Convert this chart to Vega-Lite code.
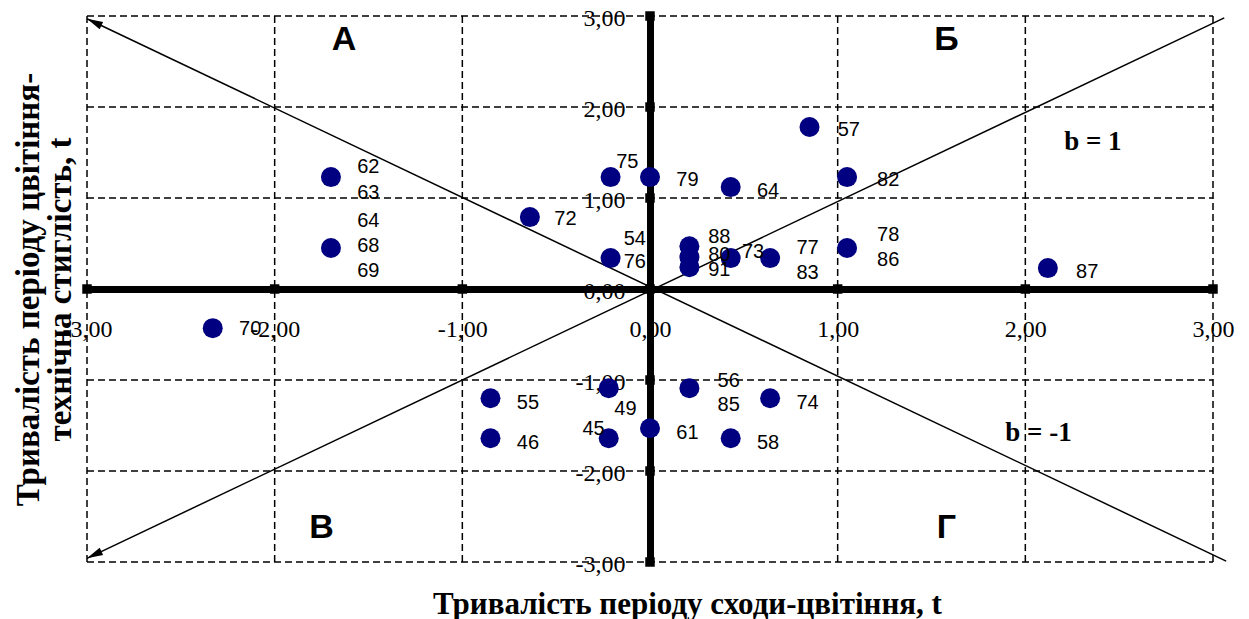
{
  "$schema": "https://vega.github.io/schema/vega-lite/v6.json",
  "width": 1126,
  "height": 546,
  "autosize": {"type": "none"},
  "padding": {"left": 87, "top": 16, "right": 36, "bottom": 57},
  "background": "white",
  "config": {"view": {"stroke": null}, "axis": {"grid": false, "ticks": false, "tickSize": 0}},
  "datasets": {
    "grid": [{"v": -3}, {"v": -2}, {"v": -1}, {"v": 1}, {"v": 2}, {"v": 3}],
    "diag": [
      {"b": "1", "x": -3, "y": -2.96}, {"b": "1", "x": 3.06, "y": 2.98},
      {"b": "-1", "x": -3, "y": 2.97}, {"b": "-1", "x": 3.07, "y": -2.99}
    ],
    "ticks": [
      {"x": -3, "y": 0}, {"x": -2, "y": 0}, {"x": -1, "y": 0}, {"x": 1, "y": 0}, {"x": 2, "y": 0}, {"x": 3, "y": 0},
      {"x": 0, "y": -3}, {"x": 0, "y": -2}, {"x": 0, "y": -1}, {"x": 0, "y": 1}, {"x": 0, "y": 2}, {"x": 0, "y": 3}, {"x": 0, "y": 0}
    ],
    "points": [
      {"label": "62, 63", "x": -1.70, "y": 1.23},
      {"label": "64, 68, 69", "x": -1.70, "y": 0.45},
      {"label": "70", "x": -2.33, "y": -0.43},
      {"label": "72", "x": -0.64, "y": 0.79},
      {"label": "75", "x": -0.21, "y": 1.23},
      {"label": "54, 76", "x": -0.21, "y": 0.34},
      {"label": "79", "x": 0, "y": 1.23},
      {"label": "64", "x": 0.43, "y": 1.12},
      {"label": "57", "x": 0.85, "y": 1.78},
      {"label": "82", "x": 1.05, "y": 1.23},
      {"label": "88", "x": 0.21, "y": 0.47},
      {"label": "80", "x": 0.21, "y": 0.35},
      {"label": "91", "x": 0.21, "y": 0.24},
      {"label": "73", "x": 0.43, "y": 0.34},
      {"label": "77, 83", "x": 0.64, "y": 0.34},
      {"label": "78, 86", "x": 1.05, "y": 0.45},
      {"label": "87", "x": 2.12, "y": 0.23},
      {"label": "55", "x": -0.85, "y": -1.20},
      {"label": "46", "x": -0.85, "y": -1.64},
      {"label": "49", "x": -0.22, "y": -1.09},
      {"label": "45", "x": -0.22, "y": -1.64},
      {"label": "61", "x": 0, "y": -1.53},
      {"label": "56, 85", "x": 0.21, "y": -1.09},
      {"label": "74", "x": 0.64, "y": -1.20},
      {"label": "58", "x": 0.43, "y": -1.64}
    ],
    "labels": [
      {"t": "62", "x": -1.56, "y": 1.34}, {"t": "63", "x": -1.56, "y": 1.05},
      {"t": "64", "x": -1.56, "y": 0.75}, {"t": "68", "x": -1.56, "y": 0.47}, {"t": "69", "x": -1.56, "y": 0.20},
      {"t": "70", "x": -2.19, "y": -0.44},
      {"t": "72", "x": -0.51, "y": 0.77},
      {"t": "75", "x": -0.18, "y": 1.40},
      {"t": "54", "x": -0.14, "y": 0.55}, {"t": "76", "x": -0.14, "y": 0.30},
      {"t": "79", "x": 0.14, "y": 1.20},
      {"t": "64", "x": 0.57, "y": 1.08},
      {"t": "57", "x": 1.00, "y": 1.75},
      {"t": "82", "x": 1.21, "y": 1.20},
      {"t": "88", "x": 0.31, "y": 0.57}, {"t": "80", "x": 0.31, "y": 0.37}, {"t": "91", "x": 0.31, "y": 0.21},
      {"t": "73", "x": 0.49, "y": 0.41},
      {"t": "77", "x": 0.78, "y": 0.45}, {"t": "83", "x": 0.78, "y": 0.18},
      {"t": "78", "x": 1.21, "y": 0.59}, {"t": "86", "x": 1.21, "y": 0.32},
      {"t": "87", "x": 2.27, "y": 0.19},
      {"t": "55", "x": -0.71, "y": -1.25},
      {"t": "46", "x": -0.71, "y": -1.69},
      {"t": "49", "x": -0.19, "y": -1.32},
      {"t": "45", "x": -0.36, "y": -1.54},
      {"t": "61", "x": 0.14, "y": -1.58},
      {"t": "56", "x": 0.36, "y": -1.01}, {"t": "85", "x": 0.36, "y": -1.27},
      {"t": "74", "x": 0.78, "y": -1.25},
      {"t": "58", "x": 0.57, "y": -1.69}
    ],
    "quads": [
      {"t": "А", "x": -1.63, "y": 2.74}, {"t": "Б", "x": 1.58, "y": 2.74},
      {"t": "В", "x": -1.75, "y": -2.63}, {"t": "Г", "x": 1.58, "y": -2.63}
    ],
    "blabels": [
      {"t": "b = 1", "x": 2.36, "y": 1.62}, {"t": "b = -1", "x": 2.07, "y": -1.58}
    ],
    "arrowUp": [{"x": -3, "y": 2.97}],
    "arrowDown": [{"x": -3, "y": -2.96}]
  },
  "layer": [
    {
      "data": {"name": "grid"},
      "mark": {"type": "rule", "color": "black", "strokeWidth": 1.5, "strokeDash": [7, 4]},
      "encoding": {
        "x": {"field": "v", "type": "quantitative", "title": "Тривалість періоду сходи-цвітіння, t", "scale": {"domain": [-3, 3], "nice": false, "zero": false},
          "axis": {
            "orient": "bottom", "offset": -273, "grid": false,
            "domain": true, "domainColor": "black", "domainWidth": 7, "domainCap": "butt",
            "ticks": false, "tickSize": 0, "values": [-3, -2, -1, 0, 1, 2, 3],
            "labelExpr": "(datum.value < 0 ? '-' : '') + replace(format(abs(datum.value), '.2f'), '.', ',')",
            "labelFont": "Liberation Serif", "labelFontSize": 24, "labelColor": "black",
            "labelBaseline": "middle", "labelPadding": 40, "labelFlush": false, "labelBound": false, "labelOverlap": false,
            "title": "Тривалість періоду сходи-цвітіння, t",
            "titleFont": "Liberation Serif", "titleFontSize": 31, "titleFontWeight": "bold", "titleColor": "black",
            "titleBaseline": "middle", "titleY": 315, "titleX": 600, "titleAlign": "center"
          }
        },
        "y": {"datum": -3, "type": "quantitative", "title": ["Тривалість періоду цвітіння-", "технічна стиглість, t"], "scale": {"domain": [-3, 3], "nice": false, "zero": false},
          "axis": {
            "orient": "left", "offset": -563, "grid": false,
            "domain": true, "domainColor": "black", "domainWidth": 7, "domainCap": "butt",
            "ticks": false, "tickSize": 0, "values": [-3, -2, -1, 0, 1, 2, 3],
            "labelExpr": "(datum.value < 0 ? '-' : '') + replace(format(abs(datum.value), '.2f'), '.', ',')",
            "labelFont": "Liberation Serif", "labelFontSize": 24, "labelColor": "black",
            "labelBaseline": "middle", "labelPadding": 25, "labelOffset": 2, "labelFlush": false, "labelBound": false, "labelOverlap": false,
            "title": ["Тривалість періоду цвітіння-", "технічна стиглість, t"],
            "titleFont": "Liberation Serif", "titleFontSize": 33, "titleFontWeight": "bold", "titleColor": "black",
            "titleBaseline": "middle", "titleLineHeight": 32, "titleX": -622, "titleY": 273, "titleAlign": "center", "titleAngle": -90
          }
        },
        "y2": {"datum": 3}
      }
    },
    {
      "data": {"name": "grid"},
      "mark": {"type": "rule", "color": "black", "strokeWidth": 1.5, "strokeDash": [7, 4]},
      "encoding": {
        "y": {"field": "v", "type": "quantitative", "title": ["Тривалість періоду цвітіння-", "технічна стиглість, t"]},
        "x": {"datum": -3, "type": "quantitative", "title": "Тривалість періоду сходи-цвітіння, t"},
        "x2": {"datum": 3}
      }
    },
    {
      "data": {"name": "diag"},
      "mark": {"type": "line", "color": "black", "strokeWidth": 1.5, "clip": false},
      "encoding": {
        "x": {"field": "x", "type": "quantitative", "title": "Тривалість періоду сходи-цвітіння, t"},
        "y": {"field": "y", "type": "quantitative", "title": ["Тривалість періоду цвітіння-", "технічна стиглість, t"]},
        "detail": {"field": "b"}
      }
    },
    {
      "data": {"name": "arrowUp"},
      "mark": {"type": "point", "shape": "M0,0 L2,-0.5 L2,0.5 Z", "filled": true, "color": "black", "opacity": 1, "size": 256, "angle": 25.9},
      "encoding": {
        "x": {"field": "x", "type": "quantitative", "title": "Тривалість періоду сходи-цвітіння, t"},
        "y": {"field": "y", "type": "quantitative", "title": ["Тривалість періоду цвітіння-", "технічна стиглість, t"]}
      }
    },
    {
      "data": {"name": "arrowDown"},
      "mark": {"type": "point", "shape": "M0,0 L2,-0.5 L2,0.5 Z", "filled": true, "color": "black", "opacity": 1, "size": 256, "angle": 334.1},
      "encoding": {
        "x": {"field": "x", "type": "quantitative", "title": "Тривалість періоду сходи-цвітіння, t"},
        "y": {"field": "y", "type": "quantitative", "title": ["Тривалість періоду цвітіння-", "технічна стиглість, t"]}
      }
    },
    {
      "data": {"name": "ticks"},
      "mark": {"type": "point", "shape": "square", "filled": true, "color": "black", "opacity": 1, "size": 90},
      "encoding": {
        "x": {"field": "x", "type": "quantitative", "title": "Тривалість періоду сходи-цвітіння, t"},
        "y": {"field": "y", "type": "quantitative", "title": ["Тривалість періоду цвітіння-", "технічна стиглість, t"]}
      }
    },
    {
      "data": {"name": "points"},
      "mark": {"type": "point", "shape": "circle", "filled": true, "color": "#000080", "opacity": 1, "size": 400},
      "encoding": {
        "x": {"field": "x", "type": "quantitative", "title": "Тривалість періоду сходи-цвітіння, t"},
        "y": {"field": "y", "type": "quantitative", "title": ["Тривалість періоду цвітіння-", "технічна стиглість, t"]},
        "tooltip": {"field": "label"}
      }
    },
    {
      "data": {"name": "labels"},
      "mark": {"type": "text", "align": "left", "baseline": "middle", "font": "Liberation Sans", "fontSize": 20, "color": "black"},
      "encoding": {
        "x": {"field": "x", "type": "quantitative", "title": "Тривалість періоду сходи-цвітіння, t"},
        "y": {"field": "y", "type": "quantitative", "title": ["Тривалість періоду цвітіння-", "технічна стиглість, t"]},
        "text": {"field": "t"}
      }
    },
    {
      "data": {"name": "quads"},
      "mark": {"type": "text", "align": "center", "baseline": "middle", "font": "Liberation Sans", "fontSize": 34, "fontWeight": "bold", "color": "black"},
      "encoding": {
        "x": {"field": "x", "type": "quantitative", "title": "Тривалість періоду сходи-цвітіння, t"},
        "y": {"field": "y", "type": "quantitative", "title": ["Тривалість періоду цвітіння-", "технічна стиглість, t"]},
        "text": {"field": "t"}
      }
    },
    {
      "data": {"name": "blabels"},
      "mark": {"type": "text", "align": "center", "baseline": "middle", "font": "Liberation Serif", "fontSize": 27, "fontWeight": "bold", "color": "black"},
      "encoding": {
        "x": {"field": "x", "type": "quantitative", "title": "Тривалість періоду сходи-цвітіння, t"},
        "y": {"field": "y", "type": "quantitative", "title": ["Тривалість періоду цвітіння-", "технічна стиглість, t"]},
        "text": {"field": "t"}
      }
    }
  ]
}
